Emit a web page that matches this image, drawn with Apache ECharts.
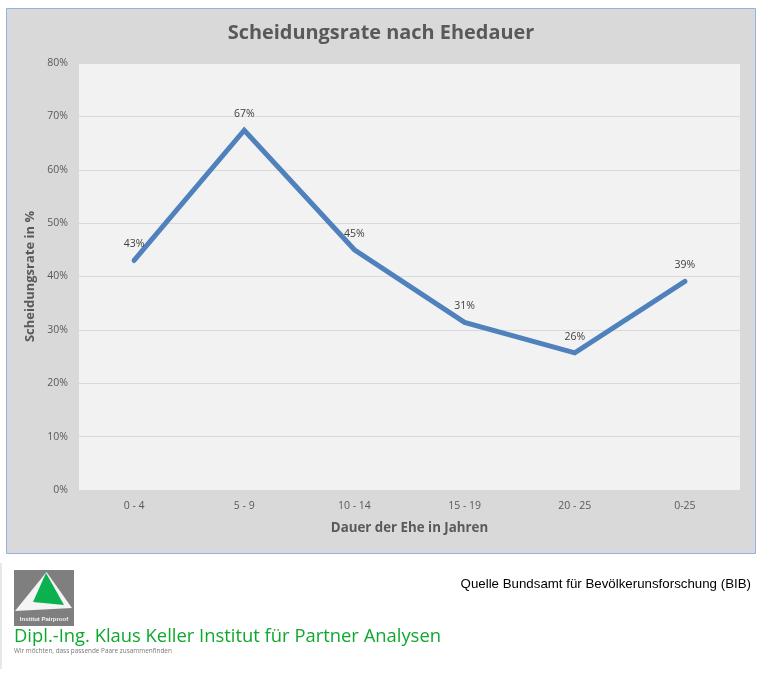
<!DOCTYPE html>
<html>
<head>
<meta charset="utf-8">
<style>
  html, body { margin: 0; padding: 0; background: #fff; }
  #main { width: 761px; height: 680px; }
</style>
<script src="https://cdn.jsdelivr.net/npm/echarts@6/dist/echarts.min.js"></script>
</head>
<body>
<div id="main"></div>
<script>
var categories = ['0 - 4', '5 - 9', '10 - 14', '15 - 19', '20 - 25', '0-25'];
var rates = [43, 67.4, 45, 31.4, 25.7, 39.1];
var yTicks = { min: 0, max: 80, interval: 10 };

var titleText = 'Scheidungsrate nach Ehedauer';
var xName = 'Dauer der Ehe in Jahren';
var yName = 'Scheidungsrate in %';
var sourceText = 'Quelle Bundsamt für Bevölkerunsforschung (BIB)';
var instituteText = 'Dipl.-Ing. Klaus Keller Institut für Partner Analysen';
var sloganText = 'Wir möchten, dass passende Paare zusammenfinden';
var logoText = 'Institut Pairproof';

var font = '"Open Sans", sans-serif';
var myChart = echarts.init(document.getElementById('main'), null, { renderer: 'canvas' });

var option = {
    backgroundColor: '#ffffff',
    animation: false,
    textStyle: { fontFamily: font },
    title: {
        text: titleText,
        left: 376,
        textAlign: 'center',
        top: 18,
        textStyle: { fontFamily: font, fontSize: 19.9, fontWeight: 'bold', color: '#595959' }
    },
    grid: {
        left: 79,
        top: 63,
        width: 661,
        height: 427,
        show: true,
        backgroundColor: '#f2f2f2',
        borderWidth: 0
    },
    xAxis: {
        type: 'category',
        data: categories,
        boundaryGap: true,
        axisLine: { show: false },
        axisTick: { show: false },
        axisLabel: { color: '#595959', fontSize: 10.5, margin: 11, fontFamily: font },
        name: xName,
        nameLocation: 'middle',
        nameGap: 32,
        nameTextStyle: { color: '#595959', fontSize: 13.3, fontWeight: 'bold', fontFamily: font }
    },
    yAxis: {
        type: 'value',
        min: yTicks.min,
        max: yTicks.max,
        interval: yTicks.interval,
        axisLine: { show: false },
        axisTick: { show: false },
        axisLabel: {
            color: '#595959', fontSize: 10.5, margin: 11, fontFamily: font,
            formatter: function (v) { return v + '%'; }
        },
        splitLine: { lineStyle: { color: '#d9d9d9', width: 1 } },
        name: yName,
        nameLocation: 'middle',
        nameGap: 35,
        nameTextStyle: { color: '#595959', fontSize: 13, fontWeight: 'bold', fontFamily: font }
    },
    series: [{
        type: 'line',
        data: rates,
        symbol: 'circle',
        symbolSize: 1,
        lineStyle: { color: '#4f81bd', width: 5, join: 'miter', cap: 'round' },
        itemStyle: { color: '#4f81bd' },
        label: {
            show: true,
            position: 'top',
            distance: 10,
            color: '#404040',
            fontSize: 10.5,
            fontFamily: font,
            formatter: function (p) { return Math.round(p.value) + '%'; }
        },
        z: 5
    }],
    graphic: [
        // chart panel behind the grid
        { type: 'rect', silent: true, z: -10, shape: { x: 6.5, y: 8.5, width: 749, height: 545 },
          style: { fill: '#d9d9d9', stroke: '#8db4e2', lineWidth: 1 } },
        // left strip of the footer
        { type: 'rect', silent: true, z: -10, shape: { x: 0, y: 563, width: 2, height: 106 },
          style: { fill: '#e8e8e8' } },
        // logo
        { type: 'rect', silent: true, shape: { x: 14, y: 570, width: 60, height: 56 },
          style: { fill: '#7f7f7f' } },
        { type: 'polygon', silent: true, z: 1, shape: { points: [[46.5, 572], [72, 608], [15, 611]] },
          style: { fill: '#f4f4f4' } },
        { type: 'polygon', silent: true, z: 2, shape: { points: [[46, 573], [64, 605], [33, 602]] },
          style: { fill: '#0bb04f' } },
        { type: 'text', silent: true, z: 3, style: { text: logoText, x: 44, y: 619, align: 'center', verticalAlign: 'middle',
          fill: '#f2f2f2', font: 'bold 6px "Liberation Sans"' } },
        // footer texts
        { type: 'text', silent: true, style: { text: sourceText, x: 751, y: 584, align: 'right', verticalAlign: 'middle',
          fill: '#000000', font: '13.3px "Liberation Sans"' } },
        { type: 'text', silent: true, style: { text: instituteText, x: 14, y: 637, align: 'left', verticalAlign: 'middle',
          fill: '#0fa82e', font: '18.4px "Open Sans"' } },
        { type: 'text', silent: true, style: { text: sloganText, x: 14, y: 651, align: 'left', verticalAlign: 'middle',
          fill: '#777777', font: '6.4px "Open Sans"' } }
    ]
};

myChart.setOption(option);
</script>
</body>
</html>
